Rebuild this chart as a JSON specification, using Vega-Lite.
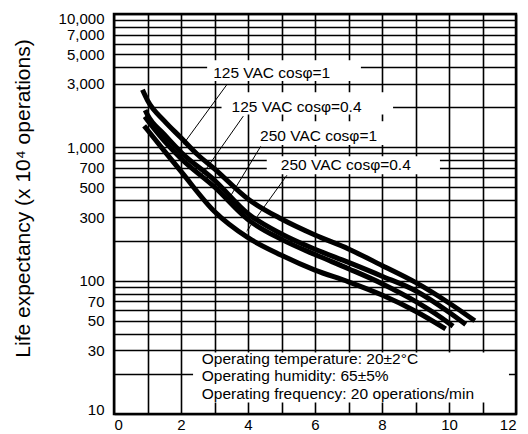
{
  "$schema": "https://vega.github.io/schema/vega-lite/v6.json",
  "width": 402,
  "height": 400,
  "autosize": "none",
  "padding": {"left": 114, "top": 14, "right": 12, "bottom": 20},
  "background": "white",
  "config": {
    "view": {"stroke": "black", "strokeWidth": 2.5},
    "font": "Liberation Sans",
    "axis": {
      "gridColor": "black", "gridOpacity": 1, "gridWidth": 1.6,
      "domain": false, "ticks": false,
      "labelColor": "black", "labelFont": "Liberation Sans", "labelFontSize": 15,
      "titleColor": "black", "titleFont": "Liberation Sans", "titleFontWeight": "normal"
    }
  },
  "datasets": {
    "curves": [
      {"series": "125 VAC cosφ=1", "x": 0.85, "y": 2700},
      {"series": "125 VAC cosφ=1", "x": 1, "y": 2250},
      {"series": "125 VAC cosφ=1", "x": 1.5, "y": 1580},
      {"series": "125 VAC cosφ=1", "x": 2, "y": 1180},
      {"series": "125 VAC cosφ=1", "x": 2.5, "y": 880},
      {"series": "125 VAC cosφ=1", "x": 3, "y": 690},
      {"series": "125 VAC cosφ=1", "x": 4, "y": 410},
      {"series": "125 VAC cosφ=1", "x": 5, "y": 290},
      {"series": "125 VAC cosφ=1", "x": 6, "y": 220},
      {"series": "125 VAC cosφ=1", "x": 7, "y": 173},
      {"series": "125 VAC cosφ=1", "x": 8, "y": 130},
      {"series": "125 VAC cosφ=1", "x": 9, "y": 97},
      {"series": "125 VAC cosφ=1", "x": 10, "y": 68},
      {"series": "125 VAC cosφ=1", "x": 10.77, "y": 50},
      {"series": "125 VAC cosφ=0.4", "x": 0.93, "y": 1900},
      {"series": "125 VAC cosφ=0.4", "x": 1, "y": 1750},
      {"series": "125 VAC cosφ=0.4", "x": 1.5, "y": 1250},
      {"series": "125 VAC cosφ=0.4", "x": 2, "y": 920},
      {"series": "125 VAC cosφ=0.4", "x": 3, "y": 566},
      {"series": "125 VAC cosφ=0.4", "x": 4, "y": 318},
      {"series": "125 VAC cosφ=0.4", "x": 5, "y": 224},
      {"series": "125 VAC cosφ=0.4", "x": 6, "y": 172},
      {"series": "125 VAC cosφ=0.4", "x": 7, "y": 137},
      {"series": "125 VAC cosφ=0.4", "x": 8, "y": 108},
      {"series": "125 VAC cosφ=0.4", "x": 9, "y": 84},
      {"series": "125 VAC cosφ=0.4", "x": 10, "y": 58},
      {"series": "125 VAC cosφ=0.4", "x": 10.5, "y": 47},
      {"series": "250 VAC cosφ=1", "x": 0.92, "y": 1700},
      {"series": "250 VAC cosφ=1", "x": 1, "y": 1600},
      {"series": "250 VAC cosφ=1", "x": 1.5, "y": 1120},
      {"series": "250 VAC cosφ=1", "x": 2, "y": 824},
      {"series": "250 VAC cosφ=1", "x": 3, "y": 504},
      {"series": "250 VAC cosφ=1", "x": 4, "y": 287},
      {"series": "250 VAC cosφ=1", "x": 5, "y": 204},
      {"series": "250 VAC cosφ=1", "x": 6, "y": 157},
      {"series": "250 VAC cosφ=1", "x": 7, "y": 123},
      {"series": "250 VAC cosφ=1", "x": 8, "y": 95},
      {"series": "250 VAC cosφ=1", "x": 9, "y": 70},
      {"series": "250 VAC cosφ=1", "x": 10, "y": 48},
      {"series": "250 VAC cosφ=1", "x": 10.12, "y": 45.5},
      {"series": "250 VAC cosφ=0.4", "x": 0.9, "y": 1450},
      {"series": "250 VAC cosφ=0.4", "x": 1, "y": 1350},
      {"series": "250 VAC cosφ=0.4", "x": 1.5, "y": 940},
      {"series": "250 VAC cosφ=0.4", "x": 2, "y": 660},
      {"series": "250 VAC cosφ=0.4", "x": 3, "y": 330},
      {"series": "250 VAC cosφ=0.4", "x": 4, "y": 210},
      {"series": "250 VAC cosφ=0.4", "x": 5, "y": 155},
      {"series": "250 VAC cosφ=0.4", "x": 6, "y": 120},
      {"series": "250 VAC cosφ=0.4", "x": 7, "y": 98},
      {"series": "250 VAC cosφ=0.4", "x": 8, "y": 78},
      {"series": "250 VAC cosφ=0.4", "x": 9, "y": 59},
      {"series": "250 VAC cosφ=0.4", "x": 9.9, "y": 43.5}
    ],
    "boxes": [
      {"x": 2.78, "x2": 7.37, "y": 3150, "y2": 4500},
      {"x": 3.21, "x2": 8.33, "y": 1760, "y2": 2594},
      {"x": 4.15, "x2": 8.12, "y": 1040, "y2": 1570},
      {"x": 4.56, "x2": 9.73, "y": 628, "y2": 857},
      {"x": 2.36, "x2": 11.79, "y": 12.2, "y2": 28.9}
    ],
    "labels": [
      {"text": "125 VAC cosφ=1", "x": 2.96, "y": 3605},
      {"text": "125 VAC cosφ=0.4", "x": 3.51, "y": 2014},
      {"text": "250 VAC cosφ=1", "x": 4.36, "y": 1211},
      {"text": "250 VAC cosφ=0.4", "x": 4.98, "y": 735},
      {"text": "Operating temperature: 20±2°C", "x": 2.62, "y": 25.9},
      {"text": "Operating humidity: 65±5%", "x": 2.62, "y": 19.2},
      {"text": "Operating frequency: 20 operations/min", "x": 2.62, "y": 14.1}
    ],
    "arrows": [
      {"x": 3.36, "y": 2931, "x2": 2.12, "y2": 1099},
      {"x": 3.86, "y": 1714, "x2": 2.66, "y2": 638},
      {"x": 4.38, "y": 1018, "x2": 3.46, "y2": 424},
      {"x": 5.16, "y": 617, "x2": 4.01, "y2": 245}
    ]
  },
  "encoding": {
    "x": {
      "field": "x", "type": "quantitative",
      "scale": {"domain": [0, 12], "nice": false, "zero": false},
      "axis": {
        "title": null,
        "values": [0,1,2,3,4,5,6,7,8,9,10,11,12],
        "labelExpr": "datum.value % 2 === 0 ? datum.label : ''",
        "labelPadding": 3,
        "labelOverlap": false,
        "grid": true
      }
    },
    "y": {
      "field": "y", "type": "quantitative",
      "scale": {"type": "log", "domain": [10, 10000], "nice": false},
      "axis": {
        "title": "Life expectancy  (x 10⁴ operations)",
        "titleFontSize": 21,
        "titleX": -85,
        "titleY": 184,
        "titleAngle": -90,
        "titleAlign": "center",
        "titleBaseline": "alphabetic",
        "values": [10,20,30,40,50,60,70,80,90,100,200,300,400,500,600,700,800,900,1000,2000,3000,4000,5000,6000,7000,8000,9000,10000],
        "format": ",",
        "labelExpr": "indexof([10,30,50,70,100,300,500,700,1000,3000,5000,7000,10000], datum.value) >= 0 ? datum.label : ''",
        "labelPadding": 10,
        "labelFlush": true,
        "labelFlushOffset": 3,
        "labelOverlap": false,
        "grid": true
      }
    }
  },
  "layer": [
    {
      "data": {"name": "boxes"},
      "mark": {"type": "rect", "fill": "white", "stroke": null},
      "encoding": {
        "x2": {"field": "x2"},
        "y2": {"field": "y2"}
      }
    },
    {
      "data": {"name": "curves"},
      "mark": {"type": "line", "color": "black", "strokeWidth": 5, "interpolate": "monotone", "strokeCap": "butt"},
      "encoding": {
        "detail": {"field": "series", "type": "nominal"}
      }
    },
    {
      "data": {"name": "arrows"},
      "mark": {"type": "rule", "color": "black", "strokeWidth": 1},
      "encoding": {
        "x2": {"field": "x2"},
        "y2": {"field": "y2"}
      }
    },
    {
      "data": {"name": "arrows"},
      "mark": {"type": "point", "shape": "wedge", "filled": true, "color": "black", "opacity": 1, "size": 45, "angle": 214},
      "encoding": {
        "x": {"field": "x2", "type": "quantitative"},
        "y": {"field": "y2", "type": "quantitative"}
      }
    },
    {
      "data": {"name": "labels"},
      "mark": {"type": "text", "align": "left", "baseline": "middle", "fontSize": 15.5, "color": "black", "font": "Liberation Sans"},
      "encoding": {
        "text": {"field": "text", "type": "nominal"}
      }
    }
  ]
}
